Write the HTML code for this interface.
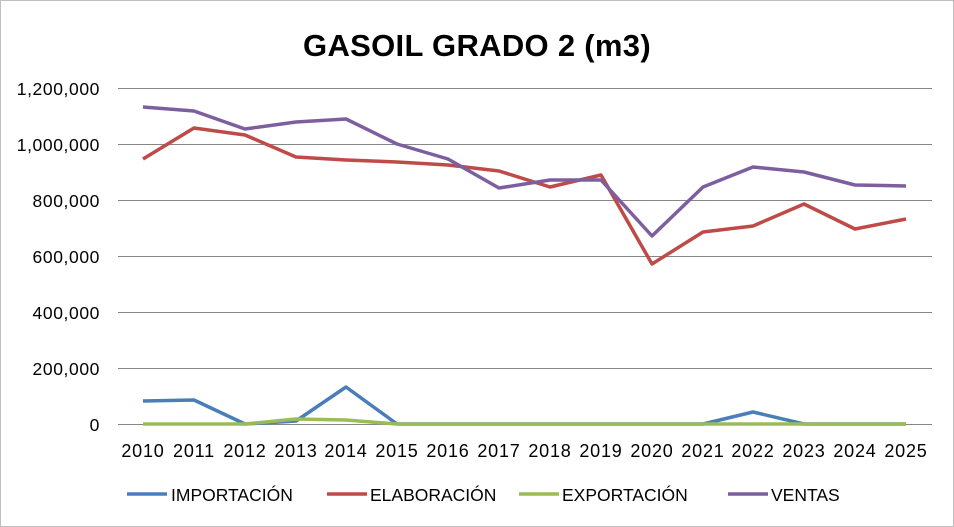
<!DOCTYPE html>
<html><head><meta charset="utf-8"><style>
body{margin:0;background:#fff}
svg{display:block}
text{font-family:"Liberation Sans",sans-serif;fill:#000}
</style></head><body>
<svg width="954" height="527" viewBox="0 0 954 527">
<rect x="0.5" y="0.5" width="953" height="526" fill="#fff" stroke="#bfbfbf"/>
<text x="477" y="56" font-size="31" font-weight="bold" text-anchor="middle" letter-spacing="0.3">GASOIL GRADO 2 (m3)</text>
<g stroke="#868686" stroke-width="1">
<line x1="118" y1="88.5" x2="932" y2="88.5"/>
<line x1="118" y1="144.5" x2="932" y2="144.5"/>
<line x1="118" y1="200.5" x2="932" y2="200.5"/>
<line x1="118" y1="256.5" x2="932" y2="256.5"/>
<line x1="118" y1="312.5" x2="932" y2="312.5"/>
<line x1="118" y1="368.5" x2="932" y2="368.5"/>
<line x1="118" y1="424.5" x2="932" y2="424.5"/>
</g>
<g font-size="17.5" text-anchor="end" letter-spacing="0.6">
<text x="100" y="95">1,200,000</text>
<text x="100" y="151">1,000,000</text>
<text x="100" y="207">800,000</text>
<text x="100" y="263">600,000</text>
<text x="100" y="319">400,000</text>
<text x="100" y="375">200,000</text>
<text x="100" y="431">0</text>
</g>
<g font-size="18" text-anchor="middle" letter-spacing="0.8">
<text x="143" y="457">2010</text><text x="194" y="457">2011</text><text x="245" y="457">2012</text><text x="296" y="457">2013</text><text x="346" y="457">2014</text><text x="397" y="457">2015</text><text x="448" y="457">2016</text><text x="499" y="457">2017</text><text x="550" y="457">2018</text><text x="601" y="457">2019</text><text x="652" y="457">2020</text><text x="703" y="457">2021</text><text x="753" y="457">2022</text><text x="804" y="457">2023</text><text x="855" y="457">2024</text><text x="906" y="457">2025</text>
</g>
<g fill="none" stroke-width="3.5" stroke-linejoin="round">
<polyline stroke="#4a7ebb" points="143,401 194,400 245,424 296,421 346,387 397,424 448,424 499,424 550,424 601,424 652,424 703,424 753,412 804,424 855,424 906,424"/>
<polyline stroke="#9bbb59" points="143,424 194,424 245,424 296,419 346,420 397,424 448,424 499,424 550,424 601,424 652,424 703,424 753,424 804,424 855,424 906,424"/>
<polyline stroke="#be4b48" points="143,159 194,128 245,135 296,157 346,160 397,162 448,165 499,171 550,187 601,175 652,264 703,232 753,226 804,204 855,229 906,219"/>
<polyline stroke="#7d5fa0" points="143,107 194,111 245,129 296,122 346,119 397,144 448,159 499,188 550,180 601,180 652,236 703,187 753,167 804,172 855,185 906,186"/>
</g>
<g stroke-width="3.5">
<line x1="127" y1="494" x2="167" y2="494" stroke="#4a7ebb"/>
<line x1="327" y1="494" x2="367" y2="494" stroke="#be4b48"/>
<line x1="519" y1="494" x2="559" y2="494" stroke="#9bbb59"/>
<line x1="728" y1="494" x2="768" y2="494" stroke="#7d5fa0"/>
</g>
<g font-size="17.5">
<text x="171" y="501">IMPORTACIÓN</text>
<text x="370" y="501">ELABORACIÓN</text>
<text x="562" y="501">EXPORTACIÓN</text>
<text x="771" y="501">VENTAS</text>
</g>
</svg>
</body></html>
